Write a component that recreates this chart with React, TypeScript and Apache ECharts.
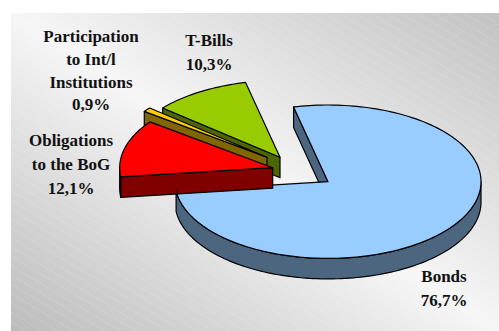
import React, { useEffect, useRef } from "react";
import * as echarts from "echarts";

const WIDTH = 499;
const HEIGHT = 331;

// Portfolio split, listed clockwise from the 12 o'clock side of the pie.
const categories = ["Bonds", "Obligations", "Participation", "T-Bills"];
const shares = [76.7, 12.1, 0.9, 10.3];
const topColors = ["#99ccff", "#ff0000", "#ffcc00", "#99cc00"];
const sideColors = ["#4d6680", "#800000", "#806600", "#4d6600"];
// Back-to-front painting order of the slices.
const paintOrder = [0, 3, 2, 1];
// Exploded slice offsets from the pie centre.
const offsets = [
  [0, 0],
  [-55.3, -14],
  [-61, -24.5],
  [-48, -24.5],
];

const labelLines = [
  ["Bonds"],
  ["Obligations", "to the BoG"],
  ["Participation", "to Int/l", "Institutions"],
  ["T-Bills"],
];
const labelAnchors = [
  [444, 276, 24],
  [71, 140, 24],
  [91, 36.7, 22.7],
  [209, 40, 24],
];

const CENTER = [328, 181.7];
const RX = 153;
const RY = 76.7;
const DEPTH = 20.5;
const START_ANGLE = 103;
const EDGE = { stroke: "#000", lineWidth: 1.2, lineJoin: "round" as const };

const percent = (v: number) => v.toFixed(1).replace(".", ",") + "%";

// Clockwise sweep (degrees, decreasing) of every slice.
const sweeps = shares.map((_, i) => {
  const total = shares.reduce((a, b) => a + b, 0);
  const before = shares.slice(0, i).reduce((a, b) => a + b, 0);
  const s = START_ANGLE - (before / total) * 360;
  return [s, s - (shares[i] / total) * 360];
});

const rim = (cx: number, cy: number, deg: number): number[] => {
  const a = (deg * Math.PI) / 180;
  return [cx + RX * Math.cos(a), cy - RY * Math.sin(a)];
};

const arc = (cx: number, cy: number, from: number, to: number): number[][] => {
  const n = Math.max(2, Math.ceil(Math.abs(from - to) / 1.5));
  const pts: number[][] = [];
  for (let k = 0; k <= n; k++) pts.push(rim(cx, cy, from + ((to - from) * k) / n));
  return pts;
};

const poly = (points: number[][], fill: string) => ({
  type: "polygon",
  shape: { points },
  style: { fill, ...EDGE },
});

function renderSlice(_: unknown, api: any) {
  const i = api.value(0) as number;
  const [s, e] = sweeps[i];
  const cx = CENTER[0] + offsets[i][0];
  const cy = CENTER[1] + offsets[i][1];
  const children: any[] = [];

  // Outer wall: only the part of the rim facing the viewer.
  for (const k of [-360, 0, 360]) {
    const hi = Math.min(s, k);
    const lo = Math.max(e, k - 180);
    if (hi > lo) {
      const top = arc(cx, cy, hi, lo);
      const bottom = top.map(([x, y]) => [x, y + DEPTH]).reverse();
      children.push(poly([...top, ...bottom], sideColors[i]));
    }
  }

  // Cut face along the leading radius, then the top surface.
  const p = rim(cx, cy, s);
  children.push(
    poly(
      [p, [cx, cy], [cx, cy + DEPTH], [p[0], p[1] + DEPTH]],
      sideColors[i],
    ),
  );
  children.push(poly([[cx, cy], ...arc(cx, cy, s, e)], topColors[i]));

  // The corner of the large slice shows through at the front slice's wall.
  if (i === 1) {
    const q = rim(CENTER[0], CENTER[1], sweeps[0][1]);
    children.push({
      type: "line",
      shape: { x1: q[0] + 1, y1: q[1] - 1, x2: q[0] + 1, y2: q[1] + 2 },
      style: { stroke: "#000", lineWidth: 1.2 },
    });
  }
  return { type: "group", children };
}

// Faint diagonal pinstripes, cut to the panel's bounds.
function stripes(x0: number, y0: number, x1: number, y1: number) {
  const slope = 0.6;
  const gap = 15.6;
  const out: any[] = [];
  for (let b = x0 - (y1 - y0) / slope; b < x1; b += gap) {
    const ax = Math.max(b, x0);
    let bx = x1;
    const ay = y0 + (ax - b) * slope;
    let by = y0 + (bx - b) * slope;
    if (by > y1) {
      by = y1;
      bx = b + (y1 - y0) / slope;
    }
    out.push({
      type: "line",
      shape: { x1: ax, y1: ay, x2: bx, y2: by },
      style: { stroke: "rgba(255,255,255,0.2)", lineWidth: 1, lineDash: [2, 1] },
      silent: true,
    });
  }
  return out;
}

function labels() {
  const out: any[] = [];
  categories.forEach((_, i) => {
    const [x, y, leading] = labelAnchors[i];
    [...labelLines[i], percent(shares[i])].forEach((line, n) => {
      out.push({
        type: "text",
        x,
        y: y + n * leading,
        style: {
          text: line,
          fill: "#111",
          fontFamily: "Liberation Serif",
          fontWeight: "bold",
          fontSize: 17,
          textAlign: "center",
          textVerticalAlign: "middle",
          align: "center",
          verticalAlign: "middle",
        },
      });
    });
  });
  return out;
}

export default function App() {
  const ref = useRef<HTMLDivElement>(null);

  useEffect(() => {
    document.body.style.margin = "0";
    const chart = echarts.init(ref.current!, undefined, { renderer: "svg" });
    chart.setOption({
      animation: false,
      graphic: [
        {
          type: "rect",
          shape: { x: 11, y: 13, width: WIDTH - 11, height: HEIGHT - 13 },
          style: {
            fill: {
              type: "linear",
              x: 1,
              y: 0,
              x2: 0,
              y2: 1,
              colorStops: [
                { offset: 0, color: "#c2c2c2" },
                { offset: 0.5, color: "#f6f6f6" },
                { offset: 1, color: "#bcbcbc" },
              ],
            },
          },
          silent: true,
        },
        ...stripes(11, 13, WIDTH, HEIGHT),
        ...labels(),
      ],
      series: [
        {
          type: "custom",
          coordinateSystem: "none",
          renderItem: renderSlice,
          data: paintOrder.map((i) => [i, shares[i]]),
          silent: true,
        },
      ],
    });
    return () => chart.dispose();
  }, []);

  return <div ref={ref} style={{ width: WIDTH, height: HEIGHT }} />;
}
